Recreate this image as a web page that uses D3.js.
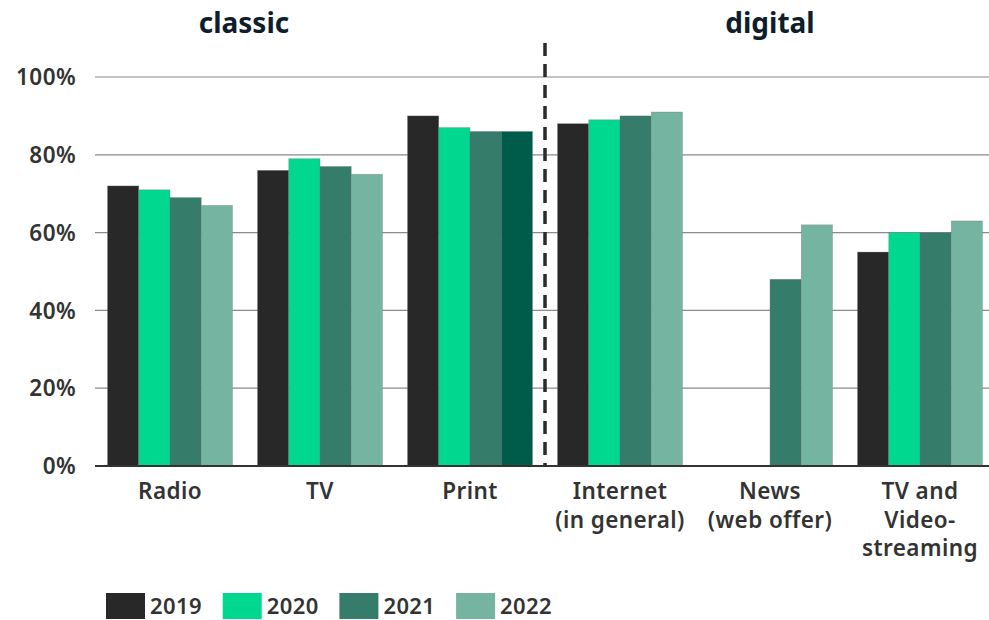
<!DOCTYPE html>
<html><head><meta charset="utf-8">
<script src="https://cdn.jsdelivr.net/npm/d3@7"></script>
<style>body{margin:0;background:#fff}svg{display:block}</style>
</head><body><svg id="c" width="989" height="620"></svg>
<script>
const categories = [["Radio"],["TV"],["Print"],["Internet","(in general)"],["News","(web offer)"],["TV and","Video-","streaming"]];
const years = ["2019","2020","2021","2022"];
const v2019 = [72,76,90,88,null,55];
const v2020 = [71,79,87,89,null,60];
const v2021 = [69,77,86,90,48,60];
const v2022 = [67,75,86,91,62,63];
const seriesValues = [v2019,v2020,v2021,v2022];
const colors = ["#282828","#00d890","#357c6b","#74b4a0"];
const yTicks = [0,20,40,60,80,100];
const groupTitles = ["classic","digital"];

const svg = d3.select("#c");
const font = "'Noto Sans', sans-serif";
const fs = 22.5, ls = "0.4px";
const x0 = d3.scaleBand().domain(d3.range(categories.length)).range([95,995]).paddingInner(25/150).paddingOuter(25/300);
const x1 = d3.scaleBand().domain(years).range([0,x0.bandwidth()]);
const y = d3.scaleLinear().domain([0,100]).range([466,77]);

// grid
svg.append("g").selectAll("line").data(yTicks.filter(d=>d>0)).join("line")
  .attr("x1",95).attr("x2",989).attr("y1",d=>y(d)).attr("y2",d=>y(d))
  .attr("stroke","#8a8a8a").attr("stroke-width",1.2);

// y labels
svg.append("g").selectAll("text").data(yTicks).join("text")
  .attr("x",76).attr("y",d=>y(d)).attr("dy","0.36em").attr("text-anchor","end")
  .attr("font-family",font).attr("font-weight",600).attr("font-size",fs).attr("letter-spacing",ls).attr("fill","#333")
  .text(d=>d+"%");

// bars
const bars = [];
seriesValues.forEach((vals,si)=>vals.forEach((v,ci)=>{ if(v!=null) bars.push({si,ci,v}); }));
svg.append("g").selectAll("rect").data(bars).join("rect")
  .attr("x",d=>x0(d.ci)+x1(years[d.si]))
  .attr("width",x1.bandwidth())
  .attr("y",d=>y(d.v)).attr("height",d=>y(0)-y(d.v))
  .attr("fill",d=> (d.ci===2 && d.si===3) ? "#005c4a" : colors[d.si])
  .attr("stroke","rgba(120,120,120,0.5)").attr("stroke-width",0.6);

// baseline
svg.append("line").attr("x1",95).attr("x2",989).attr("y1",y(0)).attr("y2",y(0))
  .attr("stroke","#333").attr("stroke-width",2);

// divider
const divX = (x0(2)+x0.bandwidth()+x0(3))/2;
svg.append("line").attr("x1",divX).attr("x2",divX).attr("y1",43).attr("y2",466)
  .attr("stroke","#2a2a2a").attr("stroke-width",3.5).attr("stroke-dasharray","13,8");

// x labels
const xl = svg.append("g").selectAll("text").data(categories.map((c,i)=>({c,i}))).join("text")
  .attr("x",d=>x0(d.i)+x0.bandwidth()/2).attr("y",499).attr("text-anchor","middle")
  .attr("font-family",font).attr("font-weight",600).attr("font-size",fs).attr("letter-spacing",ls).attr("fill","#333");
xl.selectAll("tspan").data(d=>d.c.map((t,k)=>({t,k,x:x0(d.i)+x0.bandwidth()/2}))).join("tspan")
  .attr("x",d=>d.x).attr("dy",d=>d.k===0?0:28.5).text(d=>d.t);

// titles
svg.append("g").selectAll("text").data(groupTitles).join("text")
  .attr("x",(d,i)=>i===0?244:770).attr("y",33).attr("text-anchor","middle")
  .attr("font-family",font).attr("font-weight",700).attr("font-size",28).attr("fill","#0e1e2c")
  .text(d=>d);

// legend
const lg = svg.append("g").selectAll("g").data(years).join("g")
  .attr("transform",(d,i)=>`translate(${106+i*116.7},593)`);
lg.append("rect").attr("width",39).attr("height",26).attr("fill",(d,i)=>colors[i]);
lg.append("text").attr("x",44).attr("y",20.5)
  .attr("font-family",font).attr("font-weight",600).attr("font-size",22).attr("letter-spacing",ls).attr("fill","#333").text(d=>d);
</script></body></html>
